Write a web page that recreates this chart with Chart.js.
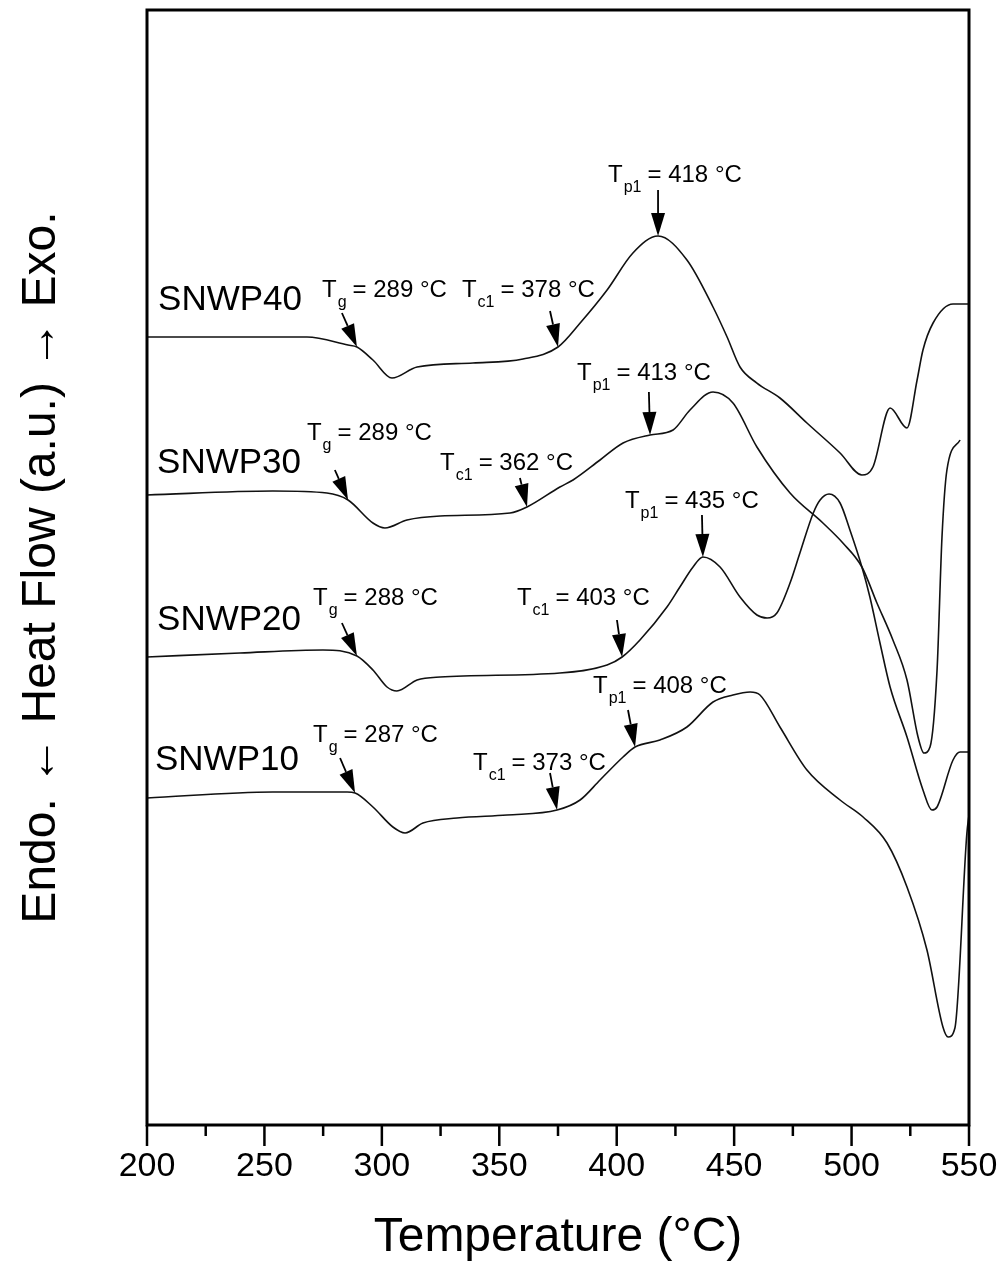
<!DOCTYPE html>
<html>
<head>
<meta charset="utf-8">
<script src="https://cdn.jsdelivr.net/npm/chart.js@4.4.1/dist/chart.umd.min.js"></script>
<style>
  html, body { margin: 0; padding: 0; background: #fff; }
  #wrap { width: 1008px; height: 1285px; position: relative; }
</style>
</head>
<body>
<div id="wrap"><canvas id="dscChart" width="1008" height="1285"></canvas></div>
<script>
/* ── DATA: temperature (°C) vs heat flow (a.u.) ── */
const tempSNWP40 = [200, 268.1, 285.6, 289.4, 296.2, 304.3, 315.0, 338.8, 360.1, 375.0, 384.8, 395.9, 406.9, 417.6, 429.9, 441.0, 447.0, 452.5, 459.7, 469.5, 481.0, 495.1, 504.4, 509.1, 516.4, 523.6, 527.9, 530.4, 534.7, 543.2, 550];
const heatSNWP40 = [788, 788, 780, 778, 765, 747, 758, 762, 766, 778, 803, 835, 872, 889, 865, 818, 788, 758, 742, 727, 702, 672, 650, 658, 717, 697, 745, 775, 802, 821, 821];

const tempSNWP30 = [200, 253.6, 276.6, 285.6, 296.2, 301.3, 310.7, 324.8, 354.6, 361.8, 375.8, 381.4, 392.9, 402.7, 414.2, 424.0, 431.2, 441.0, 449.5, 459.7, 473.8, 487.8, 496.3, 504.4, 510.8, 517.6, 523.6, 528.3, 530.8, 533.4, 536.4, 538.5, 540.6, 546.2];
const heatSNWP30 = [630, 634, 632, 625, 602, 597, 605, 609, 612, 618, 638, 645, 665, 682, 690, 695, 715, 733, 722, 678, 632, 602, 582, 558, 522, 485, 445, 388, 372, 378, 455, 588, 655, 685];

const tempSNWP20 = [200, 239.6, 274.9, 289.4, 296.2, 302.2, 306.4, 315.0, 324.8, 375.8, 395.9, 402.3, 409.9, 421.4, 426.9, 432.5, 436.7, 444.0, 452.5, 459.7, 464.0, 468.2, 473.8, 478.0, 483.7, 486.6, 490.4, 495.1, 499.3, 504.4, 507.8, 512.1, 516.4, 523.6, 530.4, 534.2, 536.4, 543.2, 546.2, 550];
const heatSNWP20 = [468, 472, 475, 469, 455, 438, 434, 445, 448, 452, 460, 468, 485, 518, 538, 558, 568, 558, 528, 510, 507, 512, 542, 572, 612, 625, 631, 622, 595, 558, 528, 482, 438, 388, 335, 315, 318, 365, 373, 373];

const tempSNWP10 = [200, 253.6, 285.2, 288.6, 296.2, 304.7, 309.9, 317.5, 332.0, 353.3, 374.6, 384.4, 392.9, 402.7, 407.8, 418.4, 429.9, 441.0, 449.5, 456.8, 461.0, 469.5, 481.0, 495.1, 504.9, 515.1, 523.6, 532.1, 538.9, 541.1, 544.0, 549.1, 550];
const heatSNWP10 = [327, 333, 333, 332, 318, 298, 292, 302, 307, 310, 315, 325, 345, 368, 378, 385, 398, 423, 430, 433, 430, 398, 355, 325, 308, 282, 238, 175, 98, 88, 97, 292, 310];

const xTicks = [200, 250, 300, 350, 400, 450, 500, 550];

/* ── ANNOTATIONS (data coordinates) ── */
const sampleNames = ['SNWP40', 'SNWP30', 'SNWP20', 'SNWP10'];
const sampleLabelAt = [[204.7, 815], [204.3, 652], [204.3, 495], [203.4, 355]];

const annSub = ['g', 'c1', 'p1', 'g', 'c1', 'p1', 'g', 'c1', 'p1', 'g', 'c1', 'p1'];
const annValue = ['= 289 °C', '= 378 °C', '= 418 °C', '= 289 °C', '= 362 °C', '= 413 °C', '= 288 °C', '= 403 °C', '= 435 °C', '= 287 °C', '= 373 °C', '= 408 °C'];
const annTextAt = [[274.5, 828], [334.1, 828], [396.3, 943], [268.1, 685], [324.8, 655], [383.1, 745], [270.7, 520], [357.5, 520], [403.5, 617], [270.7, 383], [338.8, 355], [389.9, 432]];
const annArrowFrom = [[283.0, 812], [371.6, 814], [417.6, 935], [280.0, 655], [358.8, 647], [413.7, 733], [283.0, 502], [400.1, 505], [436.3, 610], [282.2, 367], [371.6, 352], [404.8, 415]];
const annArrowTo = [[289.4, 778], [375.0, 778], [417.6, 889], [285.6, 625], [361.8, 618], [414.2, 690], [289.4, 469], [402.3, 468], [436.7, 568], [288.6, 332], [374.6, 315], [407.8, 378]];

const FONT = "'Liberation Sans', Arial, Helvetica, sans-serif";
Chart.defaults.font.family = FONT;
Chart.defaults.color = '#000';

function series(temps, heats) {
  return temps.map((t, i) => ({ x: t, y: heats[i] }));
}

function lineSet(label, temps, heats) {
  return {
    label,
    data: series(temps, heats),
    borderColor: '#111',
    borderWidth: 1.6,
    pointRadius: 0,
    fill: false,
    cubicInterpolationMode: 'monotone'
  };
}

/* ── OVERLAY: frame, ticks, labels, arrows ── */
const overlay = {
  id: 'overlay',
  afterDatasetsDraw(chart) {
    const { ctx, chartArea: a, scales: { x, y } } = chart;
    ctx.save();

    // frame
    ctx.strokeStyle = '#000';
    ctx.lineWidth = 3;
    ctx.strokeRect(a.left, a.top, a.right - a.left, a.bottom - a.top);

    // ticks: major every 50, minor every 25
    ctx.lineWidth = 2.5;
    for (let v = 200; v <= 550; v += 25) {
      const px = x.getPixelForValue(v);
      const len = v % 50 === 0 ? 21 : 11;
      ctx.beginPath();
      ctx.moveTo(px, a.bottom);
      ctx.lineTo(px, a.bottom + len);
      ctx.stroke();
    }

    ctx.fillStyle = '#000';
    ctx.textBaseline = 'alphabetic';
    ctx.textAlign = 'left';

    // sample names
    ctx.font = `35px ${FONT}`;
    sampleNames.forEach((n, i) => {
      ctx.fillText(n, x.getPixelForValue(sampleLabelAt[i][0]), y.getPixelForValue(sampleLabelAt[i][1]));
    });

    // T_x = ... labels
    annSub.forEach((sub, i) => {
      let px = x.getPixelForValue(annTextAt[i][0]);
      const py = y.getPixelForValue(annTextAt[i][1]);
      ctx.font = `24px ${FONT}`;
      ctx.fillText('T', px, py);
      px += ctx.measureText('T').width + 1;
      ctx.font = `16px ${FONT}`;
      ctx.fillText(sub, px, py + 10);
      px += ctx.measureText(sub).width + 6;
      ctx.font = `24px ${FONT}`;
      ctx.fillText(annValue[i], px, py);
    });

    // arrows
    annArrowTo.forEach((to, i) => {
      const x0 = x.getPixelForValue(annArrowFrom[i][0]), y0 = y.getPixelForValue(annArrowFrom[i][1]);
      const x1 = x.getPixelForValue(to[0]), y1 = y.getPixelForValue(to[1]);
      const ang = Math.atan2(y1 - y0, x1 - x0);
      const headLen = 23, headW = 7;
      const bx = x1 - headLen * Math.cos(ang), by = y1 - headLen * Math.sin(ang);
      ctx.lineWidth = 1.8;
      ctx.beginPath();
      ctx.moveTo(x0, y0);
      ctx.lineTo(bx, by);
      ctx.stroke();
      ctx.beginPath();
      ctx.moveTo(x1, y1);
      ctx.lineTo(bx + headW * Math.sin(ang), by - headW * Math.cos(ang));
      ctx.lineTo(bx - headW * Math.sin(ang), by + headW * Math.cos(ang));
      ctx.closePath();
      ctx.fill();
    });

    ctx.restore();
  }
};

new Chart(document.getElementById('dscChart'), {
  type: 'line',
  data: {
    datasets: [
      lineSet('SNWP40', tempSNWP40, heatSNWP40),
      lineSet('SNWP30', tempSNWP30, heatSNWP30),
      lineSet('SNWP20', tempSNWP20, heatSNWP20),
      lineSet('SNWP10', tempSNWP10, heatSNWP10)
    ]
  },
  options: {
    responsive: false,
    animation: false,
    layout: { padding: { top: 10, right: 39, left: 0, bottom: 0 } },
    plugins: { legend: { display: false }, tooltip: { enabled: false } },
    scales: {
      x: {
        type: 'linear',
        min: 200, max: 550,
        afterFit: s => { s.height = 160; s.paddingLeft = 0; s.paddingRight = 0; },
        afterBuildTicks: s => { s.ticks = xTicks.map(v => ({ value: v })); },
        grid: { display: false, drawTicks: false },
        border: { display: false },
        ticks: { font: { size: 34 }, color: '#000', padding: 21, maxRotation: 0, autoSkip: false },
        title: { display: true, text: 'Temperature (°C)', font: { size: 48 }, color: '#000', padding: { top: 0, bottom: 18 } }
      },
      y: {
        type: 'linear',
        min: 0, max: 1115,
        afterFit: s => { s.width = 147; },
        grid: { display: false, drawTicks: false },
        border: { display: false },
        ticks: { display: false },
        title: { display: true, text: 'Endo. ← Heat Flow (a.u.) → Exo.', font: { size: 48 }, color: '#000', padding: { top: 13, bottom: 0 } }
      }
    }
  },
  plugins: [overlay]
});
</script>
</body>
</html>
